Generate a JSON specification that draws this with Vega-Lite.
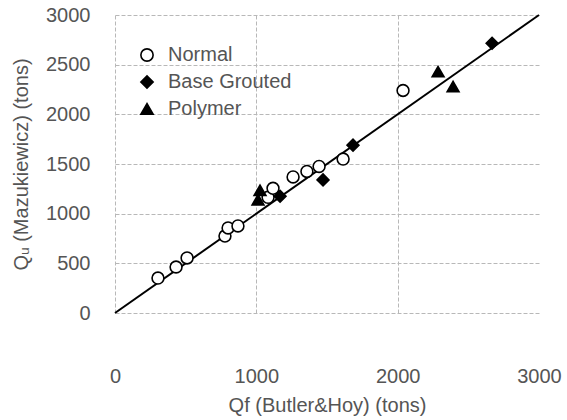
{
  "$schema": "https://vega.github.io/schema/vega-lite/v6.json",
  "width": 424,
  "height": 298,
  "autosize": "none",
  "padding": {"left": 115, "top": 15, "right": 28, "bottom": 107},
  "background": "white",
  "config": {
    "view": {"stroke": null},
    "font": "Liberation Sans",
    "axis": {
      "domain": false,
      "ticks": false,
      "format": "d",
      "labelFont": "Liberation Sans",
      "labelFontSize": 20,
      "labelColor": "#555555",
      "titleFont": "Liberation Sans",
      "titleFontSize": 20,
      "titleFontWeight": "normal",
      "titleColor": "#555555",
      "gridColor": "#b8b8b8",
      "gridDash": [4, 2],
      "gridWidth": 1
    },
    "legend": {
      "title": null,
      "orient": "none",
      "legendX": 22,
      "legendY": 30,
      "labelFont": "Liberation Sans",
      "labelFontSize": 20,
      "labelColor": "#555555",
      "symbolSize": 150,
      "symbolStrokeWidth": 1.6,
      "labelOffset": 11,
      "rowPadding": 7,
      "padding": 0
    }
  },
  "layer": [
    {
      "data": {"values": [{"qf": 0, "qu": 0}, {"qf": 3000, "qu": 3000}]},
      "mark": {"type": "line", "color": "black", "strokeWidth": 2},
      "encoding": {
        "x": {
          "field": "qf",
          "type": "quantitative",
          "scale": {"domain": [0, 3000], "nice": false},
          "axis": {
            "title": "Qf (Butler&Hoy) (tons)",
            "values": [0, 1000, 2000, 3000],
            "labelPadding": 53,
            "titlePadding": 9,
            "labelFlush": false,
            "gridColor": {"condition": {"test": "datum.value === 3000", "value": "transparent"}, "value": "#b8b8b8"}
          }
        },
        "y": {
          "field": "qu",
          "type": "quantitative",
          "scale": {"domain": [0, 3000], "nice": false},
          "axis": {
            "title": "Qᵤ (Mazukiewicz) (tons)",
            "values": [0, 500, 1000, 1500, 2000, 2500, 3000],
            "labelPadding": 25,
            "titlePadding": 14,
            "labelFlush": false
          }
        }
      }
    },
    {
      "data": {
        "values": [
          {"type": "Normal", "qf": 304, "qu": 352},
          {"type": "Normal", "qf": 432, "qu": 463},
          {"type": "Normal", "qf": 510, "qu": 554},
          {"type": "Normal", "qf": 778, "qu": 775},
          {"type": "Normal", "qf": 800, "qu": 856},
          {"type": "Normal", "qf": 870, "qu": 876},
          {"type": "Normal", "qf": 1083, "qu": 1165},
          {"type": "Normal", "qf": 1118, "qu": 1255},
          {"type": "Normal", "qf": 1260, "qu": 1370},
          {"type": "Normal", "qf": 1358, "qu": 1425},
          {"type": "Normal", "qf": 1444, "qu": 1475},
          {"type": "Normal", "qf": 1614, "qu": 1550},
          {"type": "Normal", "qf": 2038, "qu": 2240},
          {"type": "Base Grouted", "qf": 1168, "qu": 1175},
          {"type": "Base Grouted", "qf": 1472, "qu": 1340},
          {"type": "Base Grouted", "qf": 1684, "qu": 1690},
          {"type": "Base Grouted", "qf": 2668, "qu": 2715},
          {"type": "Polymer", "qf": 1026, "qu": 1235},
          {"type": "Polymer", "qf": 1012, "qu": 1140},
          {"type": "Polymer", "qf": 2286, "qu": 2430},
          {"type": "Polymer", "qf": 2392, "qu": 2280}
        ]
      },
      "mark": {"type": "point", "filled": false, "size": 140, "strokeWidth": 1.6, "stroke": "black", "opacity": 1},
      "encoding": {
        "x": {"field": "qf", "type": "quantitative"},
        "y": {"field": "qu", "type": "quantitative"},
        "shape": {
          "field": "type",
          "type": "nominal",
          "scale": {"domain": ["Normal", "Base Grouted", "Polymer"], "range": ["circle", "diamond", "triangle-up"]},
          "legend": {
            "encode": {"symbols": {"update": {"stroke": {"value": "black"}, "strokeWidth": {"value": 1.6}}}}
          }
        },
        "fill": {
          "field": "type",
          "type": "nominal",
          "scale": {"domain": ["Normal", "Base Grouted", "Polymer"], "range": ["white", "black", "black"]},
          "legend": {
            "encode": {"symbols": {"update": {"stroke": {"value": "black"}, "strokeWidth": {"value": 1.6}}}}
          }
        }
      }
    }
  ]
}
